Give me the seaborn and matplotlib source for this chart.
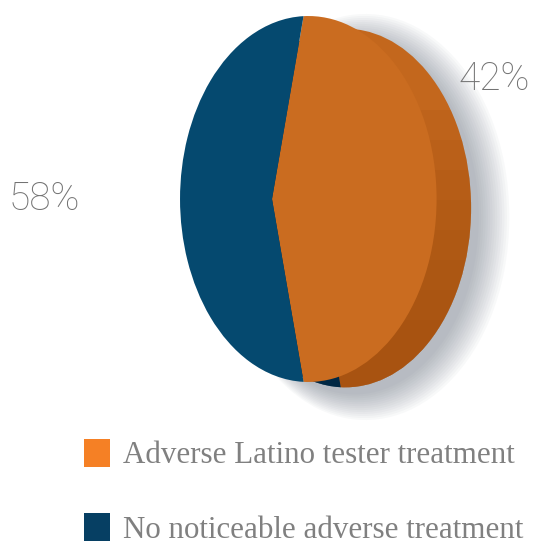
import numpy as np
import matplotlib
matplotlib.use("Agg")
import matplotlib.pyplot as plt
import seaborn as sns
from matplotlib.transforms import Transform, Affine2D
from matplotlib.patches import Patch, Circle, Polygon

# ---- data ----
categories = ["Adverse Latino tester treatment", "No noticeable adverse treatment"]
values = [42, 58]
pct_labels = ["42%", "58%"]
face_colors = ["#ca6c20", "#05496f"]
rim_colors = ["#c3671d", "#03375a"]
rim_shade = ["#9a4b0d", "#01223a"]
legend_colors = ["#f58025", "#063f63"]

sns.set_theme(style="white")
plt.rcParams["font.family"] = ["DejaVu Sans"]


class Tilt(Transform):
    """Perspective view of a unit pie disc (pixel-space output)."""
    input_dims = 2
    output_dims = 2
    is_separable = False
    has_inverse = False

    def __init__(self, x0, y0, s, t, k):
        super().__init__()
        self.x0, self.y0, self.s, self.t, self.k = x0, y0, s, t, k

    def transform_non_affine(self, values):
        values = np.asarray(values, dtype=float)
        u = values[:, 0]
        v = values[:, 1]
        d = 1.0 - self.k * u
        return np.column_stack([self.x0 + self.s * u / d, self.y0 - self.t * v / d])


W, H = 536, 544
fig = plt.figure(figsize=(W / 100, H / 100), dpi=100)
fig.patch.set_facecolor("white")
ax = fig.add_axes([0, 0, 1, 1])
ax.set_xlim(0, W)
ax.set_ylim(H, 0)

tilt = Tilt(x0=272, y0=199, s=118, t=175.5, k=0.283)
cx, cy = 312, 199
start = -values[0] / sum(values) * 360 / 2
rim_tf = Affine2D().translate(-cx, -cy).scale(0.98).translate(cx + 37, cy + 9)

# soft shadow (blurred look from many faint layers)
n_sh = 14
for i in range(n_sh):
    f = i / (n_sh - 1)
    grow = 1.0 + 0.13 * (1 - f)
    c = Circle((0, 0), grow, facecolor="#6d7886", edgecolor="none", alpha=0.045, zorder=0)
    ax.add_patch(c)
    c.set_transform(tilt + Affine2D().translate(-cx, -cy).scale(0.97)
                    .translate(cx + 46, cy + 18) + ax.transData)

# rim (thickness of the disc), base colour
rim, _ = ax.pie(values, colors=rim_colors, startangle=start, counterclock=True,
                wedgeprops=dict(linewidth=0, edgecolor="none"))
for w in rim:
    w.set_transform(tilt + rim_tf + ax.transData)
    w.set_zorder(1)

# rim shading: progressively darker toward the bottom
for ytop in [110, 140, 170, 200, 230, 260, 290, 320]:
    shade, _ = ax.pie(values, colors=rim_shade, startangle=start, counterclock=True,
                      wedgeprops=dict(linewidth=0, edgecolor="none", alpha=0.11))
    clip = Polygon([(0, ytop), (W, ytop), (W, H), (0, H)], closed=True,
                   transform=ax.transData, facecolor="none", edgecolor="none")
    for w in shade:
        w.set_transform(tilt + rim_tf + ax.transData)
        w.set_zorder(1.5)
        w.set_clip_on(True)
        w.set_clip_path(clip)

# top face
face, _ = ax.pie(values, colors=face_colors, startangle=start, counterclock=True,
                 wedgeprops=dict(linewidth=0, edgecolor="none"))
for w in face:
    w.set_transform(tilt + ax.transData)
    w.set_zorder(2)

ax.set_aspect("auto")
ax.set_xlim(0, W)
ax.set_ylim(H, 0)
ax.axis("off")

# percentage labels
pct_style = dict(family=["Roboto", "DejaVu Sans"], fontweight="light", fontsize=28,
                 color="#737373", va="baseline", ha="left", zorder=5)
ax.text(458, 90, pct_labels[0], **pct_style)
ax.text(9, 210, pct_labels[1], **pct_style)

# legend
handles = [Patch(facecolor=c, edgecolor="none") for c in legend_colors]
leg = fig.legend(handles, categories, loc="upper left",
                 bbox_to_anchor=(84 / W, 1 - 439 / H),
                 frameon=False, borderpad=0, borderaxespad=0,
                 handlelength=0.85, handleheight=1.0, handletextpad=0.42,
                 labelspacing=1.38,
                 prop=dict(family=["Liberation Serif", "DejaVu Serif"], size=22.3))
for t in leg.get_texts():
    t.set_color("#808080")

fig.savefig("out.png", dpi=100, facecolor="white")
